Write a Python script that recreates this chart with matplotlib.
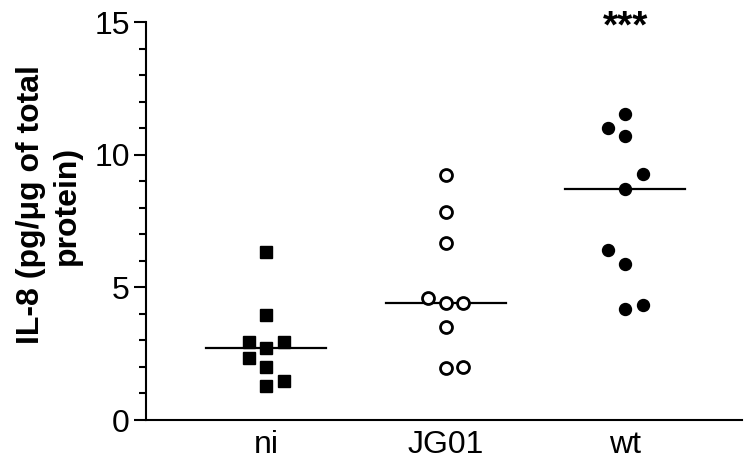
import numpy as np
import matplotlib
matplotlib.use("Agg")
import matplotlib.pyplot as plt
from matplotlib.ticker import MultipleLocator

plt.rcParams['font.family'] = ['Liberation Sans', 'DejaVu Sans']

categories = ["ni", "JG01", "wt"]
ni_values = [6.33, 3.96, 2.94, 2.94, 2.71, 2.34, 2.00, 1.47, 1.28]
ni_slots = [0, 0, -1, 1, 0, -1, 0, 1, 0]
jg01_values = [9.23, 7.84, 6.67, 4.60, 4.41, 4.41, 3.50, 1.96, 2.00]
jg01_slots = [0, 0, 0, -1, 0, 1, 0, 0, 1]
wt_values = [11.53, 11.00, 10.70, 9.27, 8.71, 6.41, 5.88, 4.33, 4.18]
wt_slots = [0, -1, 0, 1, 0, -1, 0, 1, 0]
significance = ["", "", "***"]
y_label = "IL-8 (pg/\u03bcg of total\nprotein)"

groups = [
    (ni_values, ni_slots, dict(marker='s', mfc='black', mec='black')),
    (jg01_values, jg01_slots, dict(marker='o', mfc='white', mec='black', mew=2.0)),
    (wt_values, wt_slots, dict(marker='o', mfc='black', mec='black')),
]

fig = plt.figure(figsize=(7.51, 4.71), dpi=100)
ax = fig.add_axes([146/751, 1 - 420/471, (742 - 146)/751, (420 - 22)/471])

slot_w = 0.097
half = 0.335
for i, (vals, slots, style) in enumerate(groups):
    x = i + 1 + np.array(slots) * slot_w
    ax.plot(x, vals, linestyle='none', markersize=8.6, zorder=3, clip_on=False, **style)
    med = np.median(vals)
    ax.plot([i + 1 - half, i + 1 + half], [med, med], color='black', lw=1.6, zorder=2)
    if significance[i]:
        ax.text(i + 1, 14.4, significance[i], ha='center', va='baseline',
                fontsize=28, fontweight='bold')

ax.set_xlim(0.33, 3.65)
ax.set_ylim(0, 15)
ax.set_xticks([1, 2, 3])
ax.set_xticklabels(categories)
ax.yaxis.set_major_locator(MultipleLocator(5))
ax.yaxis.set_minor_locator(MultipleLocator(1))
for s in ['top', 'right']:
    ax.spines[s].set_visible(False)
for s in ['left', 'bottom']:
    ax.spines[s].set_linewidth(1.5)
ax.tick_params(axis='y', which='major', length=8.6, width=1.5, labelsize=23, pad=3)
ax.tick_params(axis='y', which='minor', length=5, width=1.5)
ax.tick_params(axis='x', length=0, labelsize=23, pad=7)

fig.text(49/751, 1 - 205/471, y_label, rotation=90, ha='center', va='center',
         multialignment='center', fontsize=23, fontweight='bold', linespacing=1.25)

fig.savefig("out.png", dpi=100)
